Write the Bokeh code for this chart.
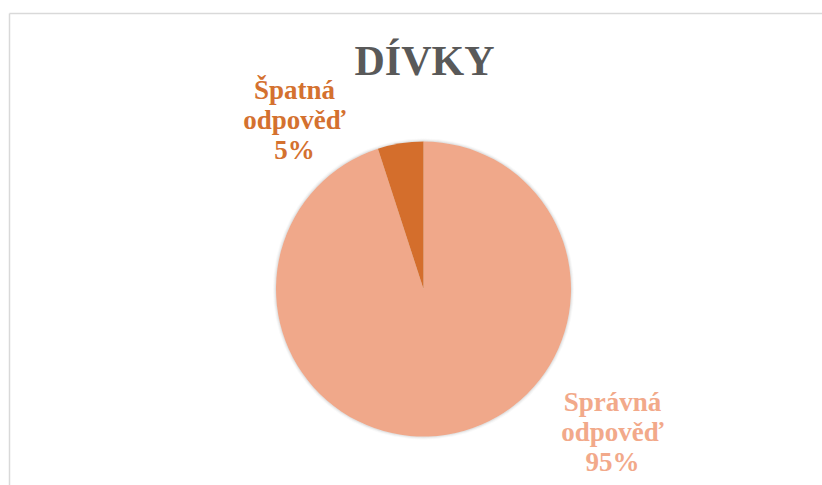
import math
from bokeh.plotting import figure
from bokeh.models import Range1d, ColumnDataSource
from bokeh.core.properties import value
from bokeh.embed import file_html
from bokeh.resources import INLINE

# ---- data ----
title_text = "DÍVKY"
categories = ["Správná odpověď", "Špatná odpověď"]
percent = [95, 5]
colors = ["#F0A88A", "#D46E2C"]
label_colors = ["#F2A98A", "#D4712F"]

# ---- layout (screenshot pixel coordinates; y measured from bottom) ----
W, H = 822, 485
def py(y_top):
    return H - y_top

p = figure(width=W, height=H, x_range=Range1d(0, W), y_range=Range1d(0, H),
           output_backend="svg", toolbar_location=None, min_border=0,
           background_fill_color="white", border_fill_color="white")
p.axis.visible = False
p.grid.visible = False
p.outline_line_color = None
p.min_border_left = p.min_border_right = p.min_border_top = p.min_border_bottom = 0

# chart border (light gray), left and top visible
p.line(x=[9, 9], y=[py(13), -5], line_color="#D9D9D9", line_width=1.5)
p.line(x=[9, 830], y=[py(13), py(13)], line_color="#D9D9D9", line_width=1.5)

cx, cy, r = 423, py(288.5), 147.5

# soft shadow
for dr, a in [(3.0, 0.05), (2.0, 0.08), (1.0, 0.12)]:
    p.circle(x=[cx], y=[cy], radius=r + dr, fill_color="#808080", fill_alpha=a, line_color=None)

total = sum(percent)
starts, ends = [], []
ang = math.pi / 2
for v in percent:
    starts.append(ang)
    ang = ang - v / total * 2 * math.pi
    ends.append(ang)

src = ColumnDataSource(dict(cat=categories, val=percent, start=starts, end=ends, color=colors))
p.wedge(x=cx, y=cy, radius=r, start_angle="start", end_angle="end", direction="clock",
        fill_color="color", line_color=None, source=src)

# title
p.text(x=[424], y=[py(60)], text=[title_text], text_font=value("Liberation Serif"),
       text_font_style="bold", text_font_size="42px", text_color="#595959",
       text_align="center", text_baseline="alphabetic")

# data labels
label_pos = [(612, 401), (294, 89)]  # center x, first line y
line_gap = 30
for cat, v, col, (lx, ly) in zip(categories, percent, label_colors, label_pos):
    lines = cat.split(" ") + [f"{v}%"]
    ys = [py(ly + i * line_gap) for i in range(len(lines))]
    p.text(x=[lx] * len(lines), y=ys, text=lines, text_font=value("Liberation Serif"),
           text_font_style="bold", text_font_size="27px", text_color=col,
           text_align="center", text_baseline="alphabetic")

open("out.html", "w").write(file_html(p, INLINE))
